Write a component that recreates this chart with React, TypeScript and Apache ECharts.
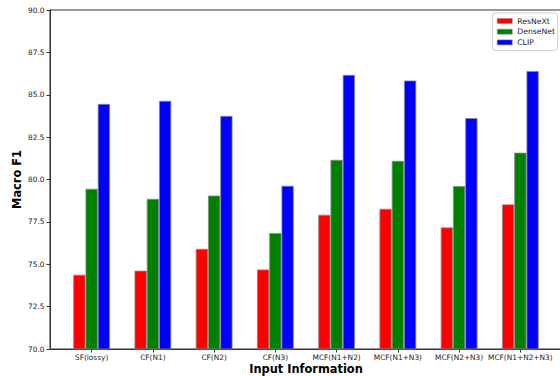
import React, { useEffect, useRef } from "react";
import * as echarts from "echarts";

const categories = [
  "SF(lossy)",
  "CF(N1)",
  "CF(N2)",
  "CF(N3)",
  "MCF(N1+N2)",
  "MCF(N1+N3)",
  "MCF(N2+N3)",
  "MCF(N1+N2+N3)",
];
const resnext = [74.38, 74.62, 75.91, 74.69, 77.92, 78.27, 77.17, 78.53];
const densenet = [79.45, 78.86, 79.05, 76.84, 81.16, 81.1, 79.61, 81.58];
const clip = [84.46, 84.64, 83.75, 79.63, 86.17, 85.84, 83.62, 86.4];
const yTicks = [70, 72.5, 75, 77.5, 80, 82.5, 85, 87.5, 90];

const seriesDefs = [
  { name: "ResNeXt", values: resnext, color: "#ff0000" },
  { name: "DenseNet", values: densenet, color: "#008000" },
  { name: "CLIP", values: clip, color: "#0000ff" },
];

export default function App() {
  const ref = useRef<HTMLDivElement>(null);
  useEffect(() => {
    if (!ref.current) return;
    document.body.style.margin = "0";
    const chart = echarts.init(ref.current, undefined, { renderer: "svg" });
    const idx = categories.map((_, i) => i);
    chart.setOption({
      animation: false,
      backgroundColor: "#ffffff",
      textStyle: { fontFamily: "DejaVu Sans" },
      grid: {
        left: 50,
        right: -2,
        top: 10,
        bottom: 27,
        show: true,
        borderColor: "#333",
        borderWidth: 1,
        containLabel: false,
        outerBoundsMode: "none",
      },
      legend: {
        orient: "vertical",
        right: 2.3,
        top: 13,
        itemWidth: 15,
        itemHeight: 5,
        itemGap: 1.7,
        icon: "rect",
        padding: [3.5, 2.7, 3.5, 4.4],
        borderColor: "#d0d0d0",
        borderWidth: 1,
        borderRadius: 3,
        backgroundColor: "rgba(255,255,255,0.8)",
        itemStyle: { borderColor: "#8a8a8a", borderWidth: 0.6 },
        textStyle: { fontSize: 7.7, lineHeight: 9, color: "#222", fontFamily: "DejaVu Sans" },
        data: seriesDefs.map((s) => s.name),
      },
      xAxis: {
        type: "value",
        min: -0.68,
        max: 7.68,
        name: "Input Information",
        nameLocation: "middle",
        nameGap: 14,
        nameMoveOverlap: false,
        nameTextStyle: { fontSize: 11.4, fontWeight: "bold", color: "#000", fontFamily: "DejaVu Sans" },
        axisLine: { show: true, onZero: false, lineStyle: { color: "#333", width: 1 } },
        axisTick: { show: true, length: 3.5, lineStyle: { color: "#333" }, customValues: idx },
        axisLabel: {
          customValues: idx,
          formatter: (v: number) => categories[Math.round(v)] ?? "",
          fontSize: 7.4,
          color: "#222",
          margin: 5,
          hideOverlap: false,
          showMinLabel: true,
          showMaxLabel: true,
          fontFamily: "DejaVu Sans",
        },
        splitLine: { show: false },
      },
      yAxis: {
        type: "value",
        min: 70,
        max: 90,
        interval: 2.5,
        name: "Macro F1",
        nameLocation: "middle",
        nameGap: 28,
        nameMoveOverlap: false,
        nameTextStyle: { fontSize: 11.4, fontWeight: "bold", color: "#000", fontFamily: "DejaVu Sans" },
        axisLine: { show: true, onZero: false, lineStyle: { color: "#333", width: 1 } },
        axisTick: { show: true, length: 3.5, lineStyle: { color: "#333" } },
        axisLabel: {
          formatter: (v: number) => (yTicks.includes(v) ? v.toFixed(1) : ""),
          fontSize: 7.4,
          color: "#222",
          margin: 5.5,
          fontFamily: "DejaVu Sans",
        },
        splitLine: { show: false },
      },
      series: seriesDefs.map((s) => ({
        name: s.name,
        type: "bar",
        barWidth: "20%",
        barGap: "0%",
        itemStyle: { color: s.color, borderColor: "#8a8a8a", borderWidth: 0.8 },
        data: s.values.map((v, i) => [i, v]),
      })),
    });
    return () => chart.dispose();
  }, []);
  return <div ref={ref} style={{ width: 560, height: 376 }} />;
}
